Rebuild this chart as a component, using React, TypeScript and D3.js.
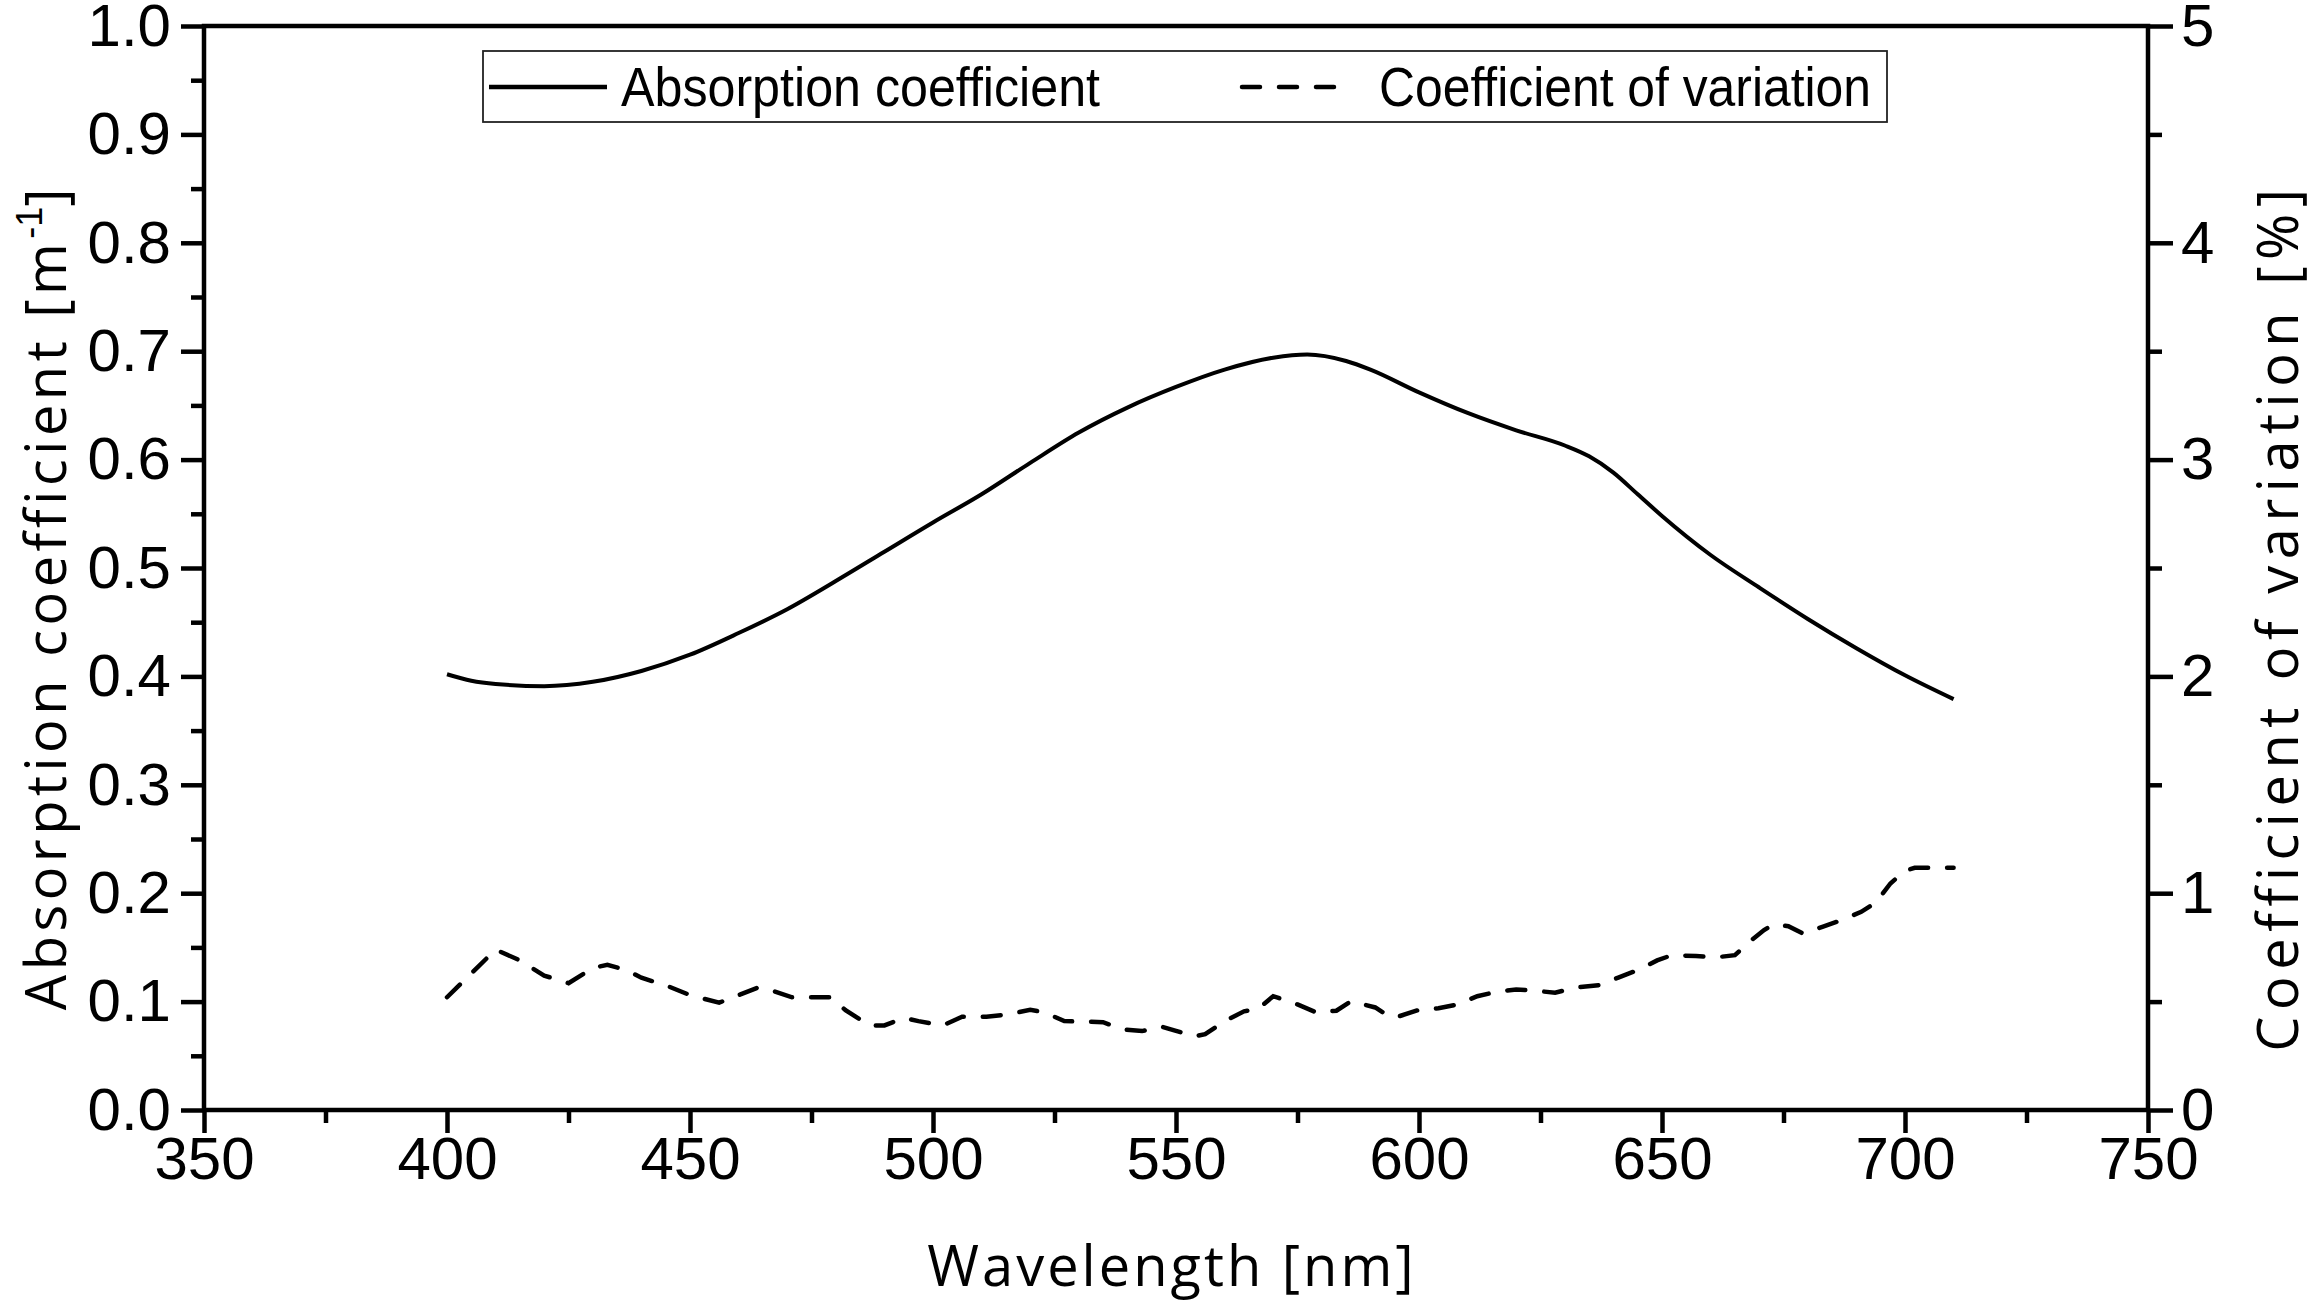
import { useEffect, useRef } from 'react';
import * as d3 from 'd3';

// Absorption coefficient [m^-1]
const absWavelength = [400, 405, 410, 420, 430, 440, 450, 460, 470, 480, 490, 500, 510, 520, 530, 540, 550, 560, 570, 577, 585, 590, 600, 610, 620, 630, 635, 640, 645, 650, 660, 670, 680, 690, 700, 710];
const absValue = [0.402, 0.396, 0.393, 0.391, 0.395, 0.405, 0.420, 0.440, 0.462, 0.488, 0.515, 0.542, 0.568, 0.597, 0.625, 0.648, 0.667, 0.683, 0.694, 0.697, 0.691, 0.683, 0.662, 0.643, 0.627, 0.613, 0.603, 0.588, 0.568, 0.548, 0.512, 0.482, 0.453, 0.426, 0.401, 0.379];

// Coefficient of variation [%]
const cvWavelength = [400, 405, 410, 415, 420, 425, 430, 433, 437, 440, 445, 450, 456, 460, 464, 467, 471, 479, 482, 487, 490, 494, 497, 502, 506, 511, 515, 520, 523, 527, 535, 539, 543, 547, 550, 554, 556, 560, 564, 567, 570, 575, 579, 583, 586, 591, 594, 596, 600, 604, 608, 612, 616, 620, 624, 628, 632, 637, 641, 645, 649, 652, 657, 661, 665, 668, 671, 673, 676, 679, 683, 687, 691, 694, 697, 700, 702, 710];
const cvValue = [0.52, 0.63, 0.74, 0.69, 0.62, 0.585, 0.655, 0.67, 0.645, 0.61, 0.575, 0.53, 0.495, 0.53, 0.565, 0.55, 0.52, 0.52, 0.46, 0.39, 0.39, 0.425, 0.41, 0.39, 0.43, 0.43, 0.44, 0.462, 0.45, 0.41, 0.405, 0.372, 0.364, 0.385, 0.365, 0.34, 0.35, 0.41, 0.455, 0.468, 0.525, 0.487, 0.449, 0.458, 0.502, 0.473, 0.43, 0.433, 0.462, 0.469, 0.487, 0.525, 0.545, 0.556, 0.55, 0.541, 0.564, 0.576, 0.611, 0.645, 0.69, 0.714, 0.71, 0.704, 0.714, 0.776, 0.83, 0.857, 0.848, 0.814, 0.845, 0.876, 0.914, 0.957, 1.045, 1.103, 1.117, 1.117];

const xTicks = [350, 400, 450, 500, 550, 600, 650, 700, 750];
const xMinorTicks = [375, 425, 475, 525, 575, 625, 675, 725];
const yTicks = [0, 0.1, 0.2, 0.3, 0.4, 0.5, 0.6, 0.7, 0.8, 0.9, 1.0];
const yMinorTicks = [0.05, 0.15, 0.25, 0.35, 0.45, 0.55, 0.65, 0.75, 0.85, 0.95];
const yRightTicks = [0, 1, 2, 3, 4, 5];
const yRightMinorTicks = [0.5, 1.5, 2.5, 3.5, 4.5];

const W = 2312;
const H = 1312;
const SANS = "'Liberation Sans', Arial, sans-serif";
const TITLE = "'Open Sans', 'Noto Sans', sans-serif";

export default function App() {
  const svgRef = useRef<SVGSVGElement>(null);

  useEffect(() => {
    if (!svgRef.current) return;
    const svg = d3.select(svgRef.current);
    svg.selectAll('*').remove();

    const left = 204, right = 2148, top = 26, bottom = 1110;
    const x = d3.scaleLinear([350, 750], [left, right]);
    const y = d3.scaleLinear([0, 1], [bottom, top]);
    const yR = d3.scaleLinear([0, 5], [bottom, top]);

    svg.append('rect').attr('width', W).attr('height', H).attr('fill', '#fff');

    const styleAxis = (sel: any) => {
      sel.select('.domain').remove();
      sel.selectAll('.tick line').attr('stroke', '#000').attr('stroke-width', 4.5);
      sel.selectAll('text').attr('fill', '#000').attr('font-size', 60).attr('font-family', SANS);
    };

    // bottom axis
    const gx = svg.append('g').attr('transform', `translate(0,${bottom})`)
      .call(d3.axisBottom(x).tickValues(xTicks).tickSize(23).tickPadding(3).tickFormat(d3.format('d')));
    styleAxis(gx);
    const gxm = svg.append('g').attr('transform', `translate(0,${bottom})`)
      .call(d3.axisBottom(x).tickValues(xMinorTicks).tickSize(13).tickFormat(() => ''));
    styleAxis(gxm);

    // left axis
    const gy = svg.append('g').attr('transform', `translate(${left},0)`)
      .call(d3.axisLeft(y).tickValues(yTicks).tickSize(23).tickPadding(10).tickFormat(d3.format('.1f')));
    styleAxis(gy);
    const gym = svg.append('g').attr('transform', `translate(${left},0)`)
      .call(d3.axisLeft(y).tickValues(yMinorTicks).tickSize(13).tickFormat(() => ''));
    styleAxis(gym);

    // right axis
    const gr = svg.append('g').attr('transform', `translate(${right},0)`)
      .call(d3.axisRight(yR).tickValues(yRightTicks).tickSize(25).tickPadding(8).tickFormat(d3.format('d')));
    styleAxis(gr);
    const grm = svg.append('g').attr('transform', `translate(${right},0)`)
      .call(d3.axisRight(yR).tickValues(yRightMinorTicks).tickSize(14).tickFormat(() => ''));
    styleAxis(grm);

    // frame
    svg.append('rect').attr('x', left).attr('y', top).attr('width', right - left).attr('height', bottom - top)
      .attr('fill', 'none').attr('stroke', '#000').attr('stroke-width', 4.5);

    // series
    const absPts = absWavelength.map((w, i) => [w, absValue[i]] as [number, number]);
    const cvPts = cvWavelength.map((w, i) => [w, cvValue[i]] as [number, number]);
    svg.append('path').datum(absPts)
      .attr('d', d3.line<[number, number]>().x(d => x(d[0])).y(d => y(d[1])).curve(d3.curveMonotoneX))
      .attr('fill', 'none').attr('stroke', '#000').attr('stroke-width', 4);
    svg.append('path').datum(cvPts)
      .attr('d', d3.line<[number, number]>().x(d => x(d[0])).y(d => yR(d[1])))
      .attr('fill', 'none').attr('stroke', '#000').attr('stroke-width', 4.5)
      .attr('stroke-dasharray', '18,19').attr('stroke-linecap', 'round');

    // legend
    const lg = svg.append('g');
    lg.append('rect').attr('x', 483).attr('y', 51).attr('width', 1404).attr('height', 71)
      .attr('fill', '#fff').attr('stroke', '#222').attr('stroke-width', 1.8);
    lg.append('line').attr('x1', 489).attr('x2', 607).attr('y1', 87).attr('y2', 87)
      .attr('stroke', '#000').attr('stroke-width', 4.5);
    lg.append('text').attr('x', 621).attr('y', 106).attr('font-family', SANS).attr('font-size', 56)
      .attr('textLength', 479).attr('lengthAdjust', 'spacingAndGlyphs')
      .attr('fill', '#000').text('Absorption coefficient');
    lg.append('line').attr('x1', 1242).attr('x2', 1342).attr('y1', 87).attr('y2', 87)
      .attr('stroke', '#000').attr('stroke-width', 4.5).attr('stroke-dasharray', '18,19').attr('stroke-linecap', 'round');
    lg.append('text').attr('x', 1379).attr('y', 106).attr('font-family', SANS).attr('font-size', 56)
      .attr('textLength', 492).attr('lengthAdjust', 'spacingAndGlyphs')
      .attr('fill', '#000').text('Coefficient of variation');

    // axis titles
    svg.append('text').attr('x', 1172).attr('y', 1286).attr('text-anchor', 'middle')
      .attr('font-family', TITLE).attr('font-size', 56).attr('letter-spacing', 3).attr('fill', '#000')
      .text('Wavelength [nm]');

    const yl = svg.append('text').attr('transform', 'translate(66,597) rotate(-90)').attr('text-anchor', 'middle')
      .attr('font-family', TITLE).attr('font-size', 56).attr('letter-spacing', 4.5).attr('fill', '#000');
    yl.append('tspan').text('Absorption coefficient  [m');
    yl.append('tspan').attr('font-family', SANS).attr('font-size', 36).attr('letter-spacing', 0).attr('dy', -24).text('-1');
    yl.append('tspan').attr('dy', 24).text(']');

    svg.append('text').attr('transform', 'translate(2298,617) rotate(-90)').attr('text-anchor', 'middle')
      .attr('font-family', TITLE).attr('font-size', 56).attr('letter-spacing', 6.5).attr('fill', '#000')
      .text('Coefficient of variation [%]');
  }, []);

  return (
    <svg ref={svgRef} width={W} height={H}
      style={{ position: 'absolute', left: 0, top: 0, display: 'block', background: '#fff' }} />
  );
}
